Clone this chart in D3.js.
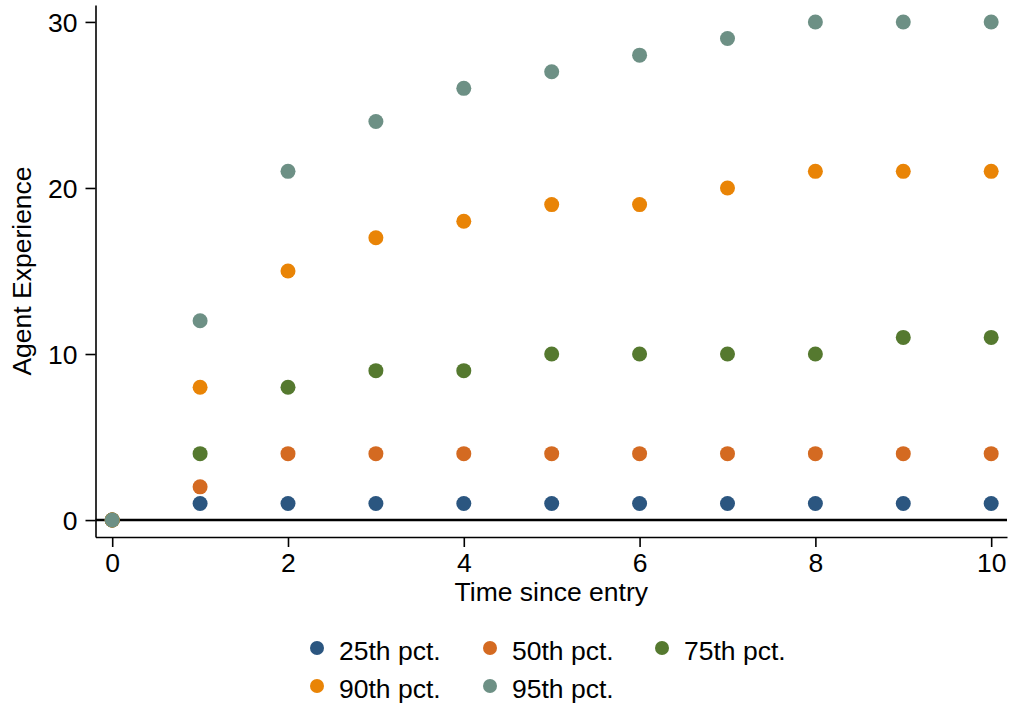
<!DOCTYPE html>
<html><head><meta charset="utf-8">
<script src="https://cdn.jsdelivr.net/npm/d3@7"></script>
<style>body{margin:0;background:#fff}svg{display:block}text{font-family:"Liberation Sans",Arial,Helvetica,sans-serif;fill:#000}</style>
</head><body>
<svg id="c" width="1010" height="705"></svg>
<script>
const times = [0,1,2,3,4,5,6,7,8,9,10];
const p25 = [0,1,1,1,1,1,1,1,1,1,1];
const p50 = [0,2,4,4,4,4,4,4,4,4,4];
const p75 = [0,4,8,9,9,10,10,10,10,11,11];
const p90 = [0,8,15,17,18,19,19,20,21,21,21];
const p95 = [0,12,21,24,26,27,28,29,30,30,30];
const seriesNames = ["25th pct.","50th pct.","75th pct.","90th pct.","95th pct."];
const seriesColors = ["#2b5680","#d46a21","#55792f","#e98406","#6d9085"];
const xTicks = [0,2,4,6,8,10];
const yTicks = [0,10,20,30];

const series = [p25,p50,p75,p90,p95].map((v,i)=>({name:seriesNames[i],color:seriesColors[i],values:v}));
const svg = d3.select("#c");
const x = d3.scaleLinear().domain([-0.19,10.18]).range([95.5,1007]);
const y = d3.scaleLinear().domain([-1.02,31.02]).range([537,5]);
const FS = 26.5;

// y axis
const ya = svg.append("g").attr("transform","translate(95.5,0)")
  .call(d3.axisLeft(y).tickValues(yTicks).tickSize(10).tickPadding(8).tickSizeOuter(0));
ya.select(".domain").attr("stroke","#000").attr("stroke-width",1.6);
ya.selectAll(".tick line").attr("stroke","#000").attr("stroke-width",1.6);
ya.selectAll(".tick text").attr("font-size",FS).attr("font-family",null).attr("dy","0.36em");

// x axis
const xa = svg.append("g").attr("transform","translate(0,537)")
  .call(d3.axisBottom(x).tickValues(xTicks).tickSize(10).tickPadding(6).tickSizeOuter(0));
xa.select(".domain").attr("stroke","#000").attr("stroke-width",1.6);
xa.selectAll(".tick line").attr("stroke","#000").attr("stroke-width",1.6);
xa.selectAll(".tick text").attr("font-size",FS).attr("font-family",null);

// zero line
svg.append("line").attr("x1",x.range()[0]).attr("x2",x.range()[1])
  .attr("y1",y(0)).attr("y2",y(0)).attr("stroke","#000").attr("stroke-width",2.4);

// points
series.forEach(s=>{
  svg.append("g").selectAll("circle").data(s.values).join("circle")
    .attr("cx",(d,i)=>x(times[i])).attr("cy",d=>y(d)).attr("r",7.5).attr("fill",s.color);
});

// titles
svg.append("text").attr("x",(x.range()[0]+x.range()[1])/2).attr("y",601)
  .attr("text-anchor","middle").attr("font-size",FS).text("Time since entry");
svg.append("text").attr("transform","translate(31,271) rotate(-90)")
  .attr("text-anchor","middle").attr("font-size",FS).text("Agent Experience");

// legend
const lgX = [317,490,662], lgY = [648,686];
series.forEach((s,i)=>{
  const cx = lgX[i%3], cy = lgY[Math.floor(i/3)];
  svg.append("circle").attr("cx",cx).attr("cy",cy).attr("r",7).attr("fill",s.color);
  svg.append("text").attr("x",cx+22).attr("y",cy+12).attr("font-size",FS).text(s.name);
});
</script>
</body></html>
